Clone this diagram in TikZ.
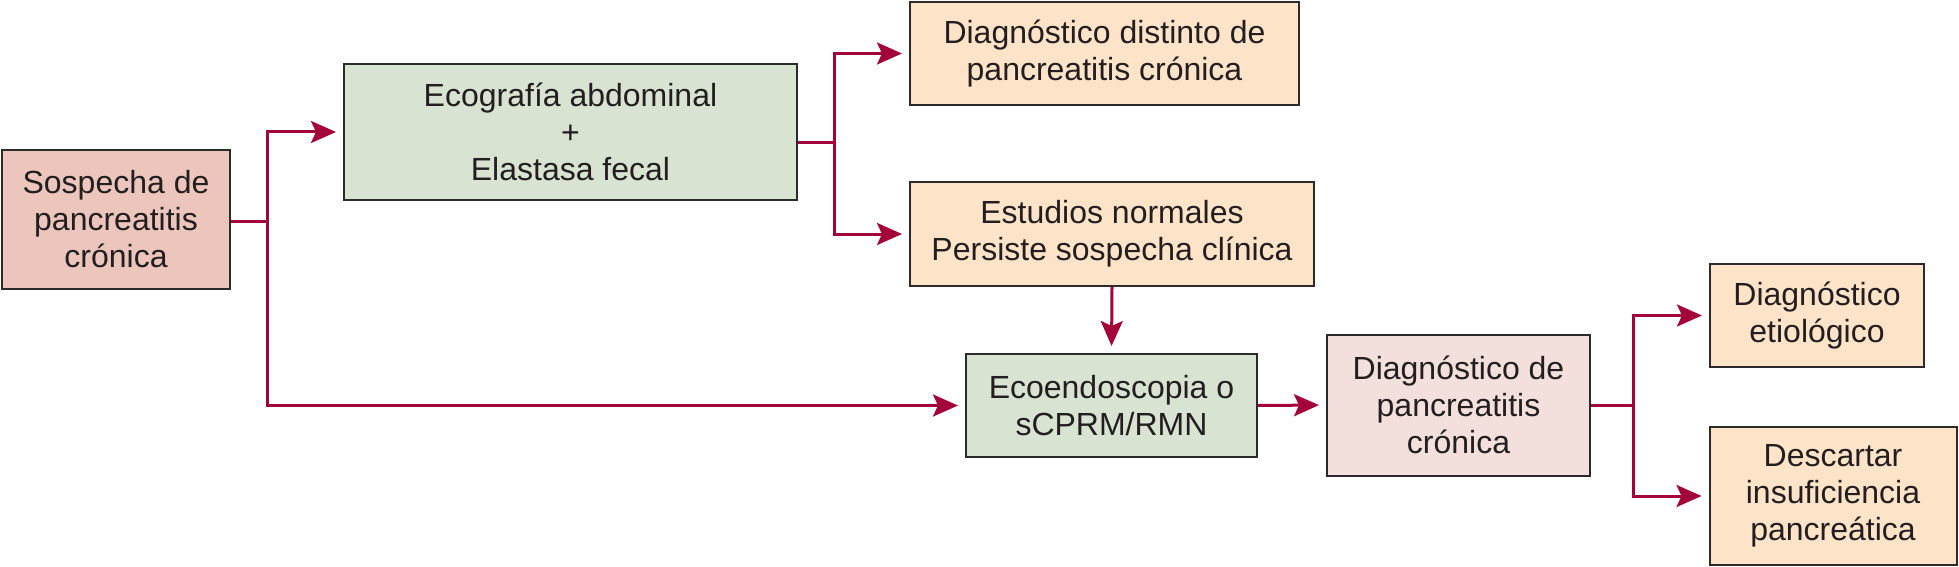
\documentclass[tikz,border=0pt]{standalone}
\usepackage{fontspec}
\setmainfont{Liberation Sans}
\usetikzlibrary{arrows.meta}

\definecolor{arrowred}{HTML}{A3053A}
\definecolor{boxline}{HTML}{2B2B2B}
\definecolor{textgray}{HTML}{231F20}
\definecolor{salmon}{HTML}{ECC6BD}
\definecolor{sage}{HTML}{D9E3D2}
\definecolor{peach}{HTML}{FDE3C8}
\definecolor{blush}{HTML}{F3E0DD}

\begin{document}
\begin{tikzpicture}[
    x=0.5pt, y=-0.5pt, % one unit = one pixel of the original, y downwards
    box/.style={draw=boxline, line width=1pt, align=center, inner sep=0pt,
        text=textgray, font=\fontsize{16}{18.5}\selectfont}, % all boxes
    start/.style={box, fill=salmon},
    study/.style={box, fill=sage},
    result/.style={box, fill=peach},
    finding/.style={box, fill=blush},
    link/.style={arrowred, line width=1.5pt},
    arr/.style={link, -{Stealth[length=12.5pt, width=11pt, inset=2.5pt]}, shorten >=3.5pt}
]

    % Fix the margins
    \useasboundingbox (0,0) rectangle (1959,567);

    % Boxes
    \node[start, minimum width=114pt, minimum height=69.5pt] (sospecha) at (116,219.5)
        {Sospecha de\\pancreatitis\\crónica};
    \node[study, minimum width=226.5pt, minimum height=68pt] (ecografia) at (570.5,132)
        {Ecografía abdominal\\+\\Elastasa fecal};
    \node[result, minimum width=194.5pt, minimum height=51.5pt] (distinto) at (1104.5,53.5)
        {Diagnóstico distinto de\\pancreatitis crónica};
    \node[result, minimum width=202pt, minimum height=52pt] (normales) at (1112,234)
        {Estudios normales\\Persiste sospecha clínica};
    \node[study, minimum width=145.5pt, minimum height=51.5pt] (ecoendo) at (1111.5,405.5)
        {Ecoendoscopia o\\sCPRM/RMN};
    \node[finding, minimum width=131.5pt, minimum height=70.5pt] (diagnostico) at (1458.5,405)
        {Diagnóstico de\\pancreatitis\\crónica};
    \node[result, minimum width=107pt, minimum height=51.5pt] (etiologico) at (1817,315.5)
        {Diagnóstico\\etiológico};
    \node[result, minimum width=123.5pt, minimum height=69pt] (descartar) at (1833,496)
        {Descartar\\insuficiencia\\pancreática};

    % Branch points
    \coordinate (forkA) at (267,221);
    \coordinate (forkB) at (834,143);
    \coordinate (forkC) at (1633,405);

    % Connectors
    \draw[link] (sospecha.east |- forkA) -- (forkA);
    \draw[arr] (forkA) |- (ecografia.west);
    \draw[arr] (forkA) |- (ecoendo.west);

    \draw[link] (ecografia.east |- forkB) -- (forkB);
    \draw[arr] (forkB) |- (distinto.west);
    \draw[arr] (forkB) |- (normales.west);

    \draw[arr] (normales.south) -- (ecoendo.north);
    \draw[arr] (ecoendo.east) -- (diagnostico.west);

    \draw[link] (diagnostico.east) -- (forkC);
    \draw[arr] (forkC) |- (etiologico.west);
    \draw[arr] (forkC) |- (descartar.west);

\end{tikzpicture}
\end{document}
